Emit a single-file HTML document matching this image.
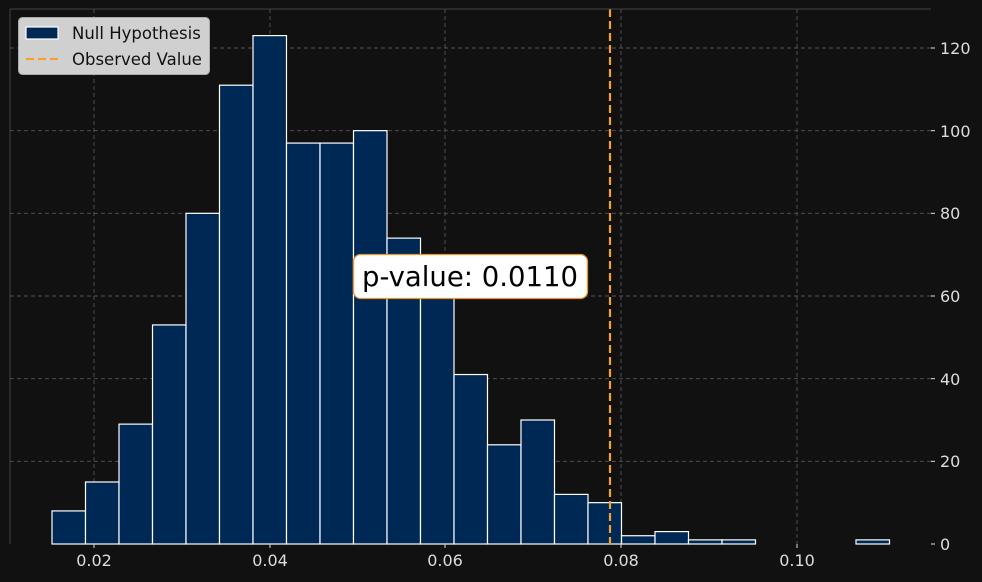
<!DOCTYPE html>
<html><head><meta charset="utf-8"><style>body{margin:0;background:#111}svg{display:block}text{font-family:"DejaVu Sans","Liberation Sans",sans-serif}</style></head>
<body>
<svg width="982" height="582" xmlns="http://www.w3.org/2000/svg">
<rect width="982" height="582" fill="#111"/>
<g stroke="#555" stroke-dasharray="4,3" stroke-width="0.9">
<line x1="94" y1="9" x2="94" y2="544"/><line x1="270" y1="9" x2="270" y2="544"/><line x1="445" y1="9" x2="445" y2="544"/><line x1="621" y1="9" x2="621" y2="544"/><line x1="797" y1="9" x2="797" y2="544"/>
<line x1="10" y1="461.3" x2="931" y2="461.3"/><line x1="10" y1="378.7" x2="931" y2="378.7"/><line x1="10" y1="296" x2="931" y2="296"/><line x1="10" y1="213.3" x2="931" y2="213.3"/><line x1="10" y1="130.7" x2="931" y2="130.7"/><line x1="10" y1="48" x2="931" y2="48"/>
</g>
<g fill="#002855" stroke="#fff" stroke-width="1.2">
<rect x="52" y="510.93" width="33.5" height="33.07"/>
<rect x="85.5" y="482" width="33.5" height="62"/>
<rect x="119" y="424.13" width="33.5" height="119.87"/>
<rect x="152.5" y="324.93" width="33.5" height="219.07"/>
<rect x="186" y="213.33" width="33.5" height="330.67"/>
<rect x="219.5" y="85.2" width="33.5" height="458.8"/>
<rect x="253" y="35.6" width="33.5" height="508.4"/>
<rect x="286.5" y="143.07" width="33.5" height="400.93"/>
<rect x="320" y="143.07" width="33.5" height="400.93"/>
<rect x="353.5" y="130.67" width="33.5" height="413.33"/>
<rect x="387" y="238.13" width="33.5" height="305.87"/>
<rect x="420.5" y="296" width="33.5" height="248"/>
<rect x="454" y="374.53" width="33.5" height="169.47"/>
<rect x="487.5" y="444.8" width="33.5" height="99.2"/>
<rect x="521" y="420" width="33.5" height="124"/>
<rect x="554.5" y="494.4" width="33.5" height="49.6"/>
<rect x="588" y="502.67" width="33.5" height="41.33"/>
<rect x="621.5" y="535.73" width="33.5" height="8.27"/>
<rect x="655" y="531.6" width="33.5" height="12.4"/>
<rect x="688.5" y="539.87" width="33.5" height="4.13"/>
<rect x="722" y="539.87" width="33.5" height="4.13"/>
<rect x="856" y="539.87" width="33.5" height="4.13"/>
</g>
<line x1="610" y1="9" x2="610" y2="544" stroke="#f5a030" stroke-width="2.2" stroke-dasharray="8,4"/>
<line x1="10" y1="9" x2="10" y2="544" stroke="#444"/>
<line x1="10" y1="9" x2="931" y2="9" stroke="#444"/>
<g fill="#ddd" font-size="16" text-anchor="middle">
<text x="94" y="566">0.02</text><text x="270" y="566">0.04</text><text x="445" y="566">0.06</text><text x="621" y="566">0.08</text><text x="797" y="566">0.10</text>
</g>
<g fill="#ddd" font-size="16">
<text x="940" y="550">0</text><text x="940" y="467">20</text><text x="940" y="385">40</text><text x="940" y="302">60</text><text x="940" y="219">80</text><text x="940" y="137">100</text><text x="940" y="54">120</text>
</g>
<g stroke="#ddd"><line x1="931" y1="544" x2="935" y2="544"/><line x1="931" y1="461.3" x2="935" y2="461.3"/><line x1="931" y1="378.7" x2="935" y2="378.7"/><line x1="931" y1="296" x2="935" y2="296"/><line x1="931" y1="213.3" x2="935" y2="213.3"/><line x1="931" y1="130.7" x2="935" y2="130.7"/><line x1="931" y1="48" x2="935" y2="48"/>
<line x1="94" y1="544" x2="94" y2="548"/><line x1="270" y1="544" x2="270" y2="548"/><line x1="445" y1="544" x2="445" y2="548"/><line x1="621" y1="544" x2="621" y2="548"/><line x1="797" y1="544" x2="797" y2="548"/></g>
<rect x="353.5" y="254.5" width="234" height="44" rx="7" fill="#fff" stroke="#e8952a" stroke-width="1.3"/>
<text x="470" y="286" font-size="27.5" text-anchor="middle" fill="#000">p-value: 0.0110</text>
<rect x="18.5" y="17.5" width="191" height="57" rx="4" fill="#d0d0d0" stroke="#aaa"/>
<rect x="26" y="27" width="32" height="12" fill="#002855" stroke="#fff" stroke-width="1.2"/>
<line x1="26" y1="59" x2="58" y2="59" stroke="#f5a030" stroke-width="2.2" stroke-dasharray="8,4"/>
<text x="72" y="39" font-size="16.5" fill="#111">Null Hypothesis</text>
<text x="72" y="65" font-size="16.5" fill="#111">Observed Value</text>
</svg>
</body></html>
